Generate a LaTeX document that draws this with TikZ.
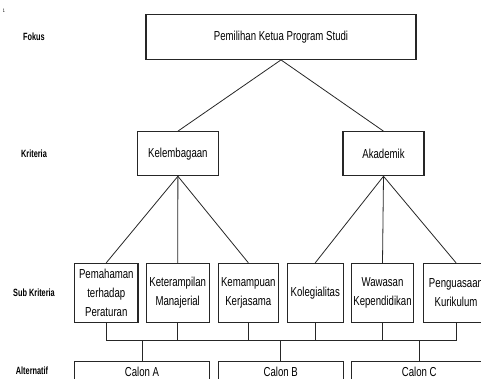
\documentclass[tikz,border=0pt]{standalone}
\usepackage{fontspec}
\setmainfont{Liberation Sans}[FakeStretch=0.74]
\newfontfamily\labfont{Liberation Sans}[FakeStretch=0.7]
\begin{document}
\begin{tikzpicture}[x=1pt,y=-1pt,
  box/.style={draw=black!85, line width=1.1pt, inner sep=0pt, align=center,
    font=\fontsize{13}{19}\selectfont},
  conn/.style={draw=black!85, line width=0.8pt},
  lab/.style={inner sep=0pt, font=\labfont\bfseries\fontsize{10.5}{12}\selectfont}]
\useasboundingbox (0,0) rectangle (481,378);
% small artifact mark
\node[inner sep=0pt, font=\fontsize{5}{6}\selectfont] (pg) at (4,10.5) {1};
% level labels
\node[lab] (lfok) at (34,37) {Fokus};
\node[lab] (lkri) at (34,154) {Kriteria};
\node[lab] (lsub) at (34,293) {Sub Kriteria};
\node[lab] (lalt) at (32,371) {Alternatif};
% goal
\node[box, minimum width=270pt, minimum height=45.3pt] (top) at (281,36.7) {Pemilihan Ketua Program Studi};
% criteria
\node[box, minimum width=80.3pt, minimum height=44pt] (kel) at (177.9,153.7) {Kelembagaan};
\node[box, minimum width=81pt, minimum height=44pt] (aka) at (383.5,153.7) {Akademik};
% sub criteria
\node[box, minimum width=63.3pt, minimum height=59.4pt] (s1) at (106.3,293) {Pemahaman\\terhadap\\Peraturan};
\node[box, minimum width=63.3pt, minimum height=59.4pt] (s2) at (177.7,293) {Keterampilan\\Manajerial};
\node[box, minimum width=60pt, minimum height=59.4pt] (s3) at (248.3,293) {Kemampuan\\Kerjasama};
\node[box, minimum width=56pt, minimum height=59.4pt] (s4) at (315.3,293) {Kolegialitas};
\node[box, minimum width=61.6pt, minimum height=59.4pt] (s5) at (382.5,293) {Wawasan\\Kependidikan};
\node[box, minimum width=65.4pt, minimum height=59.4pt] (s6) at (456,293) {Penguasaan\\Kurikulum};
% alternatives
\node[box, minimum width=134.6pt, minimum height=20pt] (cA) at (142,371.7) {Calon A};
\node[box, minimum width=125pt, minimum height=20pt] (cB) at (280.8,371.7) {Calon B};
\node[box, minimum width=135.2pt, minimum height=20pt] (cC) at (419.3,371.7) {Calon C};
% connectors
\draw[conn] (top.south) -- (kel.north);
\draw[conn] (top.south) -- (aka.north);
\draw[conn] (kel.south) -- (s1.north);
\draw[conn] (kel.south) -- (s2.north);
\draw[conn] (kel.south) -- (s3.north);
\draw[conn] (aka.south) -- (s4.north);
\draw[conn] (aka.south) -- (s5.north);
\draw[conn] (aka.south) -- (s6.north);
\coordinate (bus) at (0,340.7);
\foreach \s in {s1,s2,s3,s4,s5,s6} {\draw[conn] (\s.south) -- (\s.south |- bus);}
\draw[conn] (s1.south |- bus) -- (s6.south |- bus);
\foreach \c in {cA,cB,cC} {\draw[conn] (\c.north |- bus) -- (\c.north);}
\end{tikzpicture}
\end{document}
